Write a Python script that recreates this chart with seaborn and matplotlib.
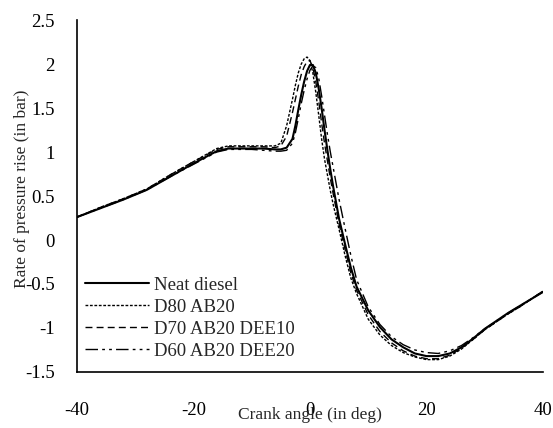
import matplotlib
matplotlib.use("Agg")
import matplotlib.pyplot as plt
import pandas as pd
import seaborn as sns

# Datos (angulo de ciguenal en grados)
angles = [-40, -36, -32, -28, -24, -20, -16, -14, -12, -10, -8, -6,
          -5, -4, -3, -2.5, -2, -1.5, -1, -0.5, 0, 0.5, 1, 1.5, 2, 2.5, 3, 3.5, 4,
          5, 6, 7, 8, 10, 12, 14, 16, 18, 20, 22, 24, 26, 28, 30, 32, 34, 36, 38, 40]

neat_diesel = [0.26, 0.36, 0.46, 0.57, 0.72, 0.87, 1.01, 1.04, 1.04, 1.04, 1.04, 1.03,
               1.03, 1.05, 1.15, 1.3, 1.48, 1.65, 1.8, 1.92, 1.99, 1.99, 1.9, 1.72, 1.5, 1.25, 1.02, 0.8, 0.6,
               0.24, -0.04, -0.31, -0.53, -0.8, -0.99, -1.13, -1.22, -1.29, -1.32, -1.32, -1.29, -1.22,
               -1.12, -1.01, -0.92, -0.83, -0.75, -0.67, -0.59]

d80_ab20 = [0.26, 0.37, 0.47, 0.58, 0.74, 0.89, 1.04, 1.07, 1.07, 1.07, 1.07, 1.07,
            1.1, 1.3, 1.6, 1.76, 1.9, 2.0, 2.06, 2.08, 2.04, 1.9, 1.68, 1.42, 1.15, 0.92, 0.74, 0.56, 0.4,
            0.12, -0.17, -0.43, -0.61, -0.9, -1.08, -1.2, -1.28, -1.33, -1.36, -1.36, -1.32, -1.24,
            -1.13, -1.02, -0.93, -0.84, -0.76, -0.67, -0.58]

d70_ab20_dee10 = [0.26, 0.37, 0.47, 0.58, 0.74, 0.89, 1.03, 1.06, 1.06, 1.06, 1.06, 1.05,
                  1.07, 1.18, 1.45, 1.6, 1.75, 1.88, 1.97, 2.03, 2.04, 1.96, 1.8, 1.58, 1.33, 1.1, 0.9, 0.7, 0.52,
                  0.18, -0.1, -0.37, -0.57, -0.85, -1.04, -1.17, -1.26, -1.32, -1.35, -1.35, -1.31, -1.23,
                  -1.13, -1.02, -0.93, -0.84, -0.76, -0.67, -0.58]

d60_ab20_dee20 = [0.26, 0.36, 0.46, 0.57, 0.72, 0.86, 1.0, 1.03, 1.03, 1.03, 1.02, 1.01,
                  1.01, 1.02, 1.1, 1.22, 1.38, 1.55, 1.7, 1.83, 1.93, 1.98, 1.96, 1.84, 1.64, 1.42, 1.2, 1.0, 0.82,
                  0.46, 0.14, -0.17, -0.45, -0.76, -0.96, -1.1, -1.19, -1.25, -1.28, -1.29, -1.26, -1.2,
                  -1.11, -1.01, -0.92, -0.83, -0.75, -0.67, -0.59]

series_names = ["Neat diesel", "D80 AB20", "D70 AB20 DEE10", "D60 AB20 DEE20"]
series_values = [neat_diesel, d80_ab20, d70_ab20_dee10, d60_ab20_dee20]

y_ticks = [-1.5, -1, -0.5, 0, 0.5, 1, 1.5, 2, 2.5]
x_ticks = [-40, -20, 0, 20, 40]

# Estilos de linea
line_styles = {
    "Neat diesel": ("-", 1.5),
    "D80 AB20": ((0, (2, 1.2)), 1.0),
    "D70 AB20 DEE10": ((0, (5, 3)), 1.0),
    "D60 AB20 DEE20": ((0, (9, 3, 2, 3, 2, 3)), 1.0),
}

df = pd.concat([
    pd.DataFrame({"angle": angles, "rate": vals, "fuel": name})
    for name, vals in zip(series_names, series_values)
])

sns.set_style("white")
plt.rcParams["font.family"] = ["Liberation Serif", "DejaVu Serif"]
plt.rcParams["axes.unicode_minus"] = False

fig = plt.figure(figsize=(5.53, 4.28), dpi=100)
ax = fig.add_axes([0.139, 0.131, 0.843, 0.822])

for name in series_names:
    ls, lw = line_styles[name]
    sns.lineplot(data=df[df["fuel"] == name], x="angle", y="rate",
                 color="black", linestyle=ls, linewidth=lw, label=name,
                 ax=ax, sort=False, estimator=None)

ax.set_xlim(-40, 40)
ax.set_ylim(-1.5, 2.5)
ax.set_xticks(x_ticks)
ax.set_xticklabels([str(t) for t in x_ticks])
ax.set_yticks(y_ticks)
ax.set_yticklabels([f"{t:g}" for t in y_ticks])

for side in ["top", "right"]:
    ax.spines[side].set_visible(False)
for side in ["left", "bottom"]:
    ax.spines[side].set_color("black")
    ax.spines[side].set_linewidth(1.2)

ax.tick_params(axis="both", direction="in", length=5, width=1, colors="black",
               labelsize=13.5)
ax.tick_params(axis="y", pad=16)
ax.tick_params(axis="x", pad=22)

ax.set_xlabel("Crank angle (in deg)", fontsize=12.5)
ax.set_ylabel("Rate of pressure rise (in bar)", fontsize=12.5)
ax.xaxis.set_label_coords(0.5, -0.1)
ax.yaxis.set_label_coords(-0.1, 0.52)

ax.legend(loc="lower left", bbox_to_anchor=(0.017, 0.035), frameon=False,
          fontsize=13.5, handlelength=3.4, handletextpad=0.3,
          labelspacing=0.26, borderpad=0, borderaxespad=0)

fig.savefig("out.png", dpi=100, facecolor="white")
